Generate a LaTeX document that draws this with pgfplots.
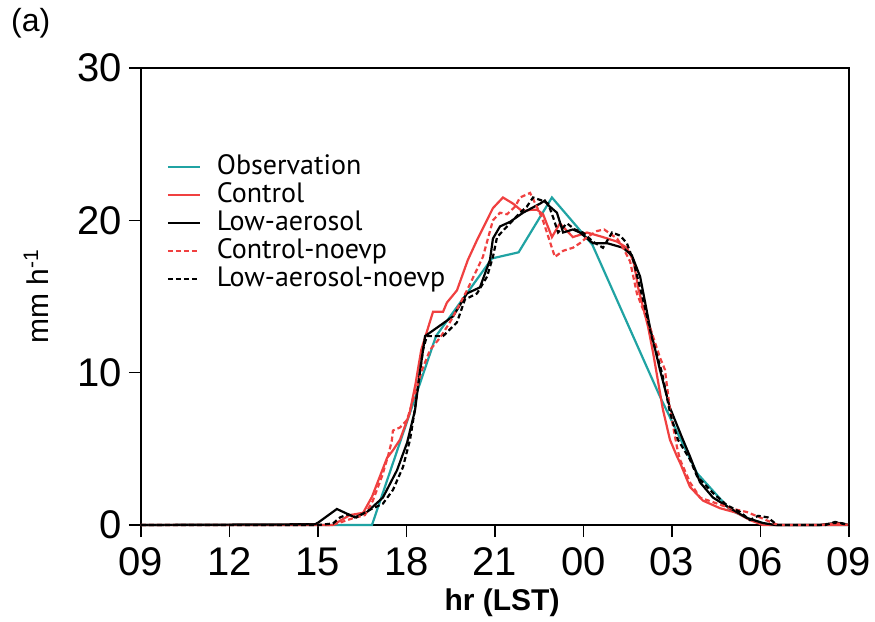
\documentclass[border=0pt]{standalone}
\usepackage{pgfplots}
\pgfplotsset{compat=1.18}
\usepackage{fontspec}
\setmainfont{Liberation Sans}
\newfontfamily\legfont{PT Sans}
\definecolor{obs}{RGB}{32,163,163}
\definecolor{ctl}{RGB}{240,64,64}
\begin{document}
\begin{tikzpicture}
\begin{axis}[
 scale only axis, width=354pt, height=228.5pt,
 xmin=0, xmax=24, ymin=0, ymax=30,
 xtick={0,3,...,24}, xticklabels={09,12,15,18,21,00,03,06,09},
 ytick={0,10,20,30},
 axis line style={line width=0.8pt},
 tick style={line width=0.8pt, black},
 tick align=outside, xtick pos=bottom, ytick pos=left,
 major tick length=6pt,
 /pgf/number format/assume math mode=true,
 ticklabel style={font=\fontsize{20}{20}\selectfont},
 xticklabel style={yshift=-2pt},
 xlabel={\textbf{hr (LST)}},
 xlabel style={font=\fontsize{15}{15}\selectfont, at={(axis description cs:0.51,-0.171)}, anchor=center},
 ylabel={mm h\textsuperscript{-1}},
 ylabel style={font=\fontsize{15}{15}\selectfont, at={(axis description cs:-0.148,0.5)}, anchor=center},
 legend style={at={(axis description cs:0.036,0.8145)}, anchor=north west, draw=none, fill=none,
   font=\legfont\fontsize{14}{14}\selectfont, row sep=0pt, inner sep=0pt,
   nodes={inner sep=0.5pt, text height=10pt, text depth=3pt}},
 legend cell align=left,
 legend image code/.code={\draw[#1, line width=1pt] (0pt,0pt) -- (16pt,0pt); \path[draw=none] (0pt,0pt) -- (24pt,0pt);},
 every axis plot/.append style={line width=1.1pt},
 clip=false,
]
\addplot[color=obs] coordinates {(0,0)(7.83,0)(10.0,12.4)(11.9,17.5)(12.8,17.9)(13.93,21.5)(15.3,18.4)(17.6,8.4)(18.85,3.4)(19.97,1.0)(20.6,0.4)(21.3,0)(24,0)};
\addlegendentry{Observation}
\addplot[color=ctl] coordinates {(0,0)(6.5,0)(7.08,0.65)(7.53,0.8)(7.83,1.85)(8.10,3.2)(8.34,4.4)(8.54,4.9)(8.78,5.6)(9.1,7.3)(9.3,9.2)(9.5,11.5)(9.90,14.0)(10.24,14.0)(10.37,14.6)(10.71,15.4)(11.08,17.4)(11.39,18.7)(11.93,20.8)(12.27,21.5)(12.61,21.1)(12.92,20.6)(13.25,20.7)(13.42,20.7)(13.63,20.4)(13.93,18.9)(14.20,19.8)(14.64,18.9)(15.12,19.2)(15.66,18.9)(16.14,18.6)(16.47,18.2)(16.7,17.3)(16.85,15.6)(17.19,13.0)(17.36,11.3)(17.69,7.6)(17.93,5.6)(18.17,4.5)(18.27,4.1)(18.61,2.5)(19.05,1.6)(19.63,1.1)(20.20,0.8)(20.64,0.33)(21.08,0)(24,0)};
\addlegendentry{Control}
\addplot[color=black] coordinates {(0,0)(5.9,0.05)(6.0,0.15)(6.64,1.05)(7.25,0.5)(7.66,0.85)(8.2,1.8)(8.68,3.6)(9.02,5.4)(9.29,7.55)(9.45,10.0)(9.63,12.4)(10.58,13.7)(11.05,15.2)(11.49,15.6)(11.83,17.4)(11.93,18.8)(12.17,19.6)(12.51,19.9)(12.95,20.5)(13.53,21.1)(13.69,21.3)(13.80,21.0)(14.10,20.5)(14.31,19.2)(14.64,19.4)(14.88,19.2)(15.32,18.5)(15.80,18.5)(16.34,18.2)(16.64,17.7)(16.92,16.3)(17.25,13.0)(17.59,10.2)(17.93,7.7)(18.37,5.6)(18.61,4.5)(18.95,2.8)(19.39,1.8)(19.97,1.1)(20.54,0.46)(21.08,0.13)(21.5,0)(23.0,0)(23.6,0.15)(24,0)};
\addlegendentry{Low-aerosol}
\addplot[color=ctl, dash pattern=on 2.5pt off 1.5pt] coordinates {(0,0)(6.5,0)(7.19,0.45)(7.59,0.65)(7.86,1.6)(8.17,3.2)(8.37,4.5)(8.5,5.5)(8.54,6.2)(8.78,6.4)(9.02,6.9)(9.22,8.2)(9.53,10.2)(9.80,11.5)(10.14,12.3)(10.47,13.3)(10.75,14.3)(11.05,15.4)(11.32,16.5)(11.59,17.6)(11.93,20.0)(12.17,20.5)(12.41,20.4)(12.68,20.9)(12.85,21.5)(13.19,21.8)(13.59,20.2)(13.76,19.2)(14.03,17.6)(14.31,18.0)(14.64,18.2)(14.88,18.5)(15.12,18.9)(15.46,19.3)(15.7,19.4)(16.14,18.8)(16.34,18.2)(16.58,17.3)(16.81,15.2)(17.25,13.0)(17.59,11.0)(17.76,10.2)(17.93,7.6)(18.17,5.1)(18.27,4.3)(18.61,2.8)(18.95,1.8)(19.39,1.5)(19.97,1.1)(20.54,0.85)(20.98,0.5)(21.42,0.13)(21.6,0)(23.0,0)(23.6,0.1)(24,0)};
\addlegendentry{Control-noevp}
\addplot[color=black, dash pattern=on 2.5pt off 1.5pt] coordinates {(0,0)(6.0,0)(6.51,0.1)(6.75,0.5)(7.02,0.7)(7.3,0.5)(7.76,1.0)(8.20,1.4)(8.54,2.3)(8.88,3.8)(9.12,5.6)(9.27,7.4)(9.56,11.5)(9.69,12.4)(10.24,12.4)(10.71,13.3)(10.98,14.8)(11.39,15.2)(11.73,16.3)(11.93,17.6)(12.07,18.9)(12.41,19.6)(12.85,20.5)(13.08,20.9)(13.29,21.5)(13.59,21.3)(13.80,21.1)(13.97,20.2)(14.14,19.2)(14.44,19.8)(14.71,19.4)(14.98,19.2)(15.32,18.6)(15.66,18.2)(15.97,19.2)(16.24,19.0)(16.47,18.5)(16.68,17.4)(17.02,14.8)(17.32,12.3)(17.66,10.0)(17.93,7.4)(18.2,5.6)(18.61,4.3)(18.85,3.2)(19.39,2.1)(19.86,1.3)(20.31,0.85)(20.64,0.33)(20.92,0.6)(21.25,0.5)(21.56,0)(23.2,0)(23.53,0.2)(23.8,0.1)(24,0)};
\addlegendentry{Low-aerosol-noevp}
\node[anchor=north west, font=\fontsize{16}{16}\selectfont, inner sep=0pt] at (axis description cs:-0.184,1.132) {(a)};
\end{axis}
\pgfresetboundingbox
\path (-70.5pt,-48.5pt) rectangle (367pt,262.5pt);
\end{tikzpicture}
\end{document}
